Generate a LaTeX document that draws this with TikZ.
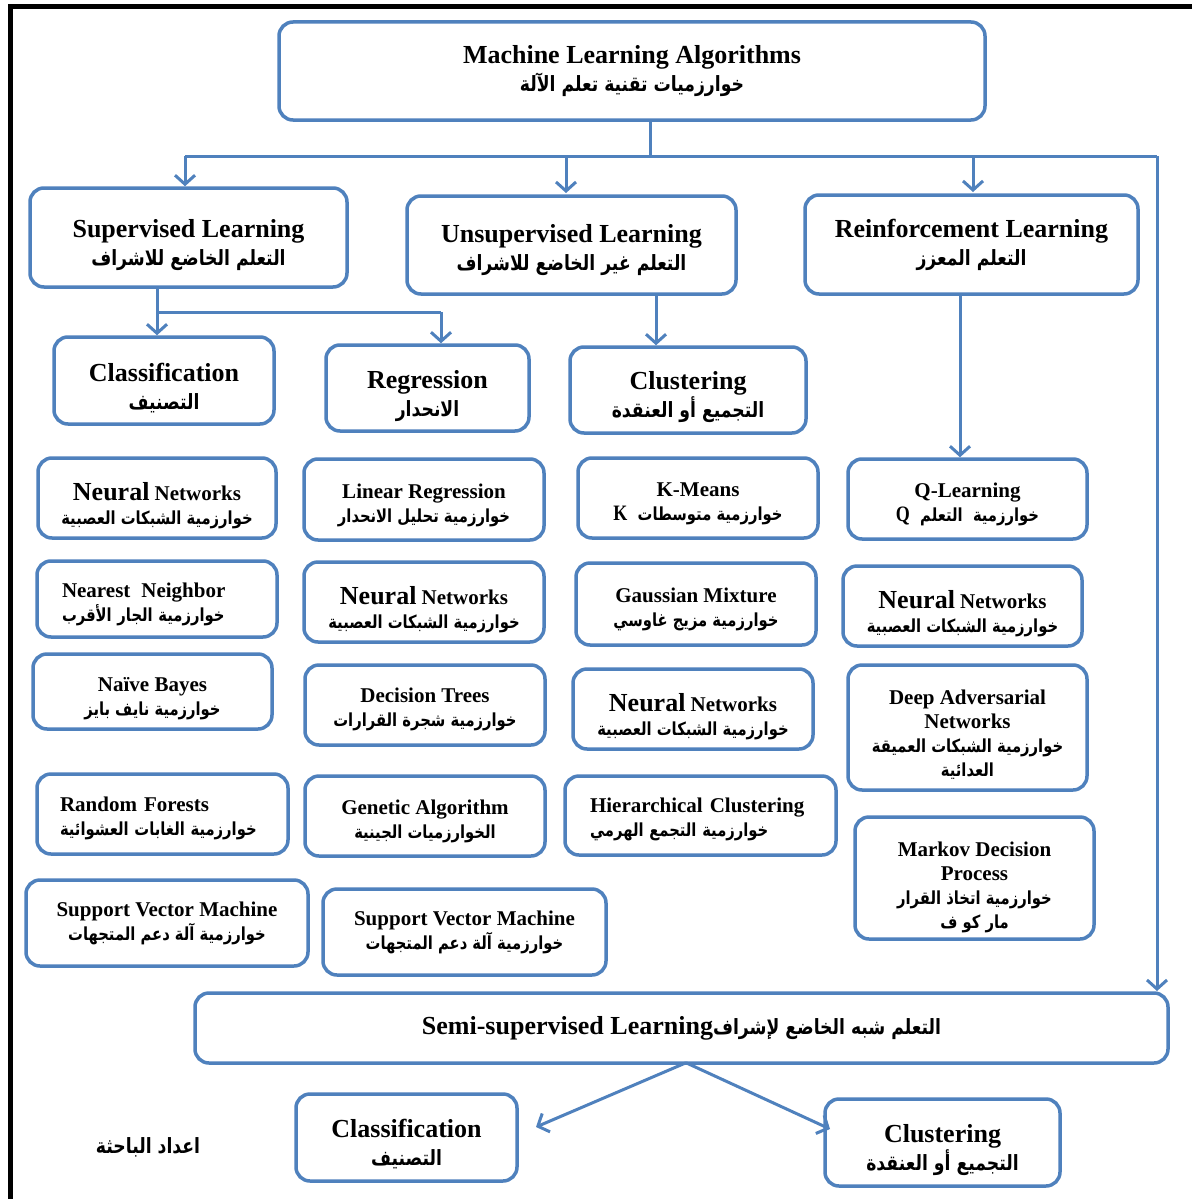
\documentclass[tikz,border=0pt]{standalone}
\usepackage{fontspec}
\usepackage{graphicx}
\setmainfont{Liberation Serif}
\newfontfamily\arabicfont[Script=Arabic]{DejaVu Sans}
\newfontfamily\latinfont{Liberation Serif}
\TeXXeTstate=1
\usetikzlibrary{arrows.meta}
\definecolor{bblue}{RGB}{79,129,189}
\newcommand\AR[2][18]{\scalebox{0.82}[1]{\arabicfont\bfseries\fontsize{#1}{24}\selectfont\beginR #2\endR}}
\newcommand\LT[1]{\beginL{\latinfont\bfseries\fontsize{22}{24}\selectfont #1}\endL}
\newcommand\BIGW[1]{{\fontsize{26}{24}\selectfont #1}}
\newcommand\TS[1]{\rule{0pt}{#1pt}}
\begin{document}
\begin{tikzpicture}[x=1pt,y=-1pt,
  box/.style={draw=bblue, line width=3.5pt, rounded corners=14pt, fill=white, inner sep=0pt, align=center, font=\fontsize{21}{24}\selectfont\bfseries},
  bigbox/.style={box, font=\fontsize{26}{28}\selectfont\bfseries},
  conn/.style={draw=bblue, line width=3pt},
  arr/.style={conn, -{Straight Barb[length=9pt,width=20pt]}},
  frame/.style={draw=black, line width=5pt}
]
\useasboundingbox (0,0) rectangle (1192,1199);
\fill[white] (0,0) rectangle (1192,1199);
\coordinate (fTL) at (10,7);
\coordinate (fTR) at (1192,7);
\coordinate (fBL) at (10,1199);
\draw[frame] (fTR) -- (fTL) -- (fBL);

% top
\node[bigbox, minimum width=706pt, minimum height=98pt] (ml) at (632,71) {Machine Learning Algorithms\\\AR[21]{خوارزميات تقنية تعلم الآلة}};

% second level
\node[bigbox, minimum width=317pt, minimum height=99pt] (sup) at (188.5,237.5) {\TS{33}Supervised Learning\\\AR[21]{التعلم الخاضع للاشراف}};
\node[bigbox, minimum width=329pt, minimum height=98pt] (unsup) at (571.5,245) {\TS{29}Unsupervised Learning\\\AR[21]{التعلم غير الخاضع للاشراف}};
\node[bigbox, minimum width=333pt, minimum height=99pt] (reinf) at (971.5,244.5) {Reinforcement Learning\\\AR[21]{التعلم المعزز}};

% third level
\node[bigbox, minimum width=220pt, minimum height=87pt] (class) at (164,380.5) {\TS{33}Classification\\\AR[21]{التصنيف}};
\node[bigbox, minimum width=203pt, minimum height=86pt] (regr) at (427.5,388) {\TS{35}Regression\\\AR[21]{الانحدار}};
\node[bigbox, minimum width=236pt, minimum height=86pt] (clust) at (688,390) {\TS{33}Clustering\\\AR[21]{التجميع أو العنقدة}};

% row 1
\node[box, minimum width=238pt, minimum height=80pt] (nn1) at (157,498) {\TS{33}\BIGW{Neural} Networks\\\AR{خوارزمية الشبكات العصبية}};
\node[box, minimum width=240pt, minimum height=81pt] (linreg) at (424,499.5) {\TS{27}Linear Regression\\\AR{خوارزمية تحليل الانحدار}};
\node[box, minimum width=240pt, minimum height=80pt] (kmeans) at (698,498) {\TS{25}K-Means\\\AR{خوارزمية متوسطات\ \ \LT{K}}};
\node[box, minimum width=239pt, minimum height=80pt] (qlearn) at (967.5,499) {\TS{25}Q-Learning\\\AR{خوارزمية\ \ التعلم\ \ \LT{Q}}};

% row 2
\node[box, minimum width=240pt, minimum height=76pt, text width=190pt, align=left] (nearest) at (157,599) {\TS{25}Nearest\hspace{4pt} Neighbor\\\AR{خوارزمية الجار الأقرب}};
\node[box, minimum width=240pt, minimum height=80pt] (nn2) at (424,602) {\TS{33}\BIGW{Neural} Networks\\\AR{خوارزمية الشبكات العصبية}};
\node[box, minimum width=240pt, minimum height=82pt] (gauss) at (696,604) {\TS{25}Gaussian Mixture\\\AR{خوارزمية مزيج غاوسي}};
\node[box, minimum width=239pt, minimum height=80pt] (nn3) at (962.5,606) {\TS{33}\BIGW{Neural} Networks\\\AR{خوارزمية الشبكات العصبية}};

% row 3
\node[box, minimum width=239pt, minimum height=75pt] (naive) at (152.5,691.5) {\TS{29}Naïve Bayes\\\AR{خوارزمية نايف بايز}};
\node[box, minimum width=240pt, minimum height=80pt] (dtree) at (425,705) {\TS{23}Decision Trees\\\AR{خوارزمية شجرة القرارات}};
\node[box, minimum width=240pt, minimum height=80pt] (nn4) at (693,709) {\TS{33}\BIGW{Neural} Networks\\\AR{خوارزمية الشبكات العصبية}};
\node[box, minimum width=239pt, minimum height=125pt] (dan) at (967.5,727.5) {\TS{29}Deep Adversarial\\Networks\\\AR{خوارزمية الشبكات العميقة}\\\AR{العدائية}};

% row 4
\node[box, minimum width=251pt, minimum height=80pt, text width=205pt, align=left] (rf) at (162.5,814) {\TS{23}Random Forests\\\AR{خوارزمية الغابات العشوائية}};
\node[box, minimum width=240pt, minimum height=80pt] (ga) at (425,816) {\TS{25}Genetic Algorithm\\\AR{الخوارزميات الجينية}};
\node[box, minimum width=271pt, minimum height=79pt, text width=221pt, align=left] (hc) at (700.5,815.5) {\TS{23}Hierarchical Clustering\\\AR{خوارزمية التجمع الهرمي}};
\node[box, minimum width=239pt, minimum height=122pt] (mdp) at (974.5,878) {\TS{33}Markov Decision\\Process\\\AR{خوارزمية اتخاذ القرار}\\\AR{مار كو ف}};

% row 5
\node[box, minimum width=282pt, minimum height=86pt] (svm1) at (167,923) {Support Vector Machine\\\AR{خوارزمية آلة دعم المتجهات}};
\node[box, minimum width=283pt, minimum height=86pt] (svm2) at (464.5,932) {Support Vector Machine\\\AR{خوارزمية آلة دعم المتجهات}};

% semi-supervised
\node[bigbox, minimum width=973pt, minimum height=70pt] (semi) at (681.5,1028) {Semi-supervised Learning\AR[21]{التعلم شبه الخاضع لإشراف}};
\node[bigbox, minimum width=221pt, minimum height=87pt] (class2) at (406.5,1137.5) {\TS{31}Classification\\\AR[21]{التصنيف}};
\node[bigbox, minimum width=235pt, minimum height=87pt] (clust2) at (942.5,1142.5) {\TS{33}Clustering\\\AR[21]{التجميع أو العنقدة}};
\node[inner sep=0pt] (credit) at (148,1147) {\AR[21]{اعداد الباحثة}};

% connectors
\coordinate (hub) at (650,156);
\coordinate (hubL) at (185,156);
\coordinate (hubR) at (1157,156);
\draw[conn] ([xshift=18pt]ml.south) -- (hub);
\draw[conn] (hubL) -- (hubR);
\draw[arr] (hubL) -- (hubL |- sup.north);
\draw[arr] (566,156) -- (566,193);
\draw[arr] (973,156) -- (973,192);
\draw[arr] (hubR) -- (1157,991);

\coordinate (sJ) at (157,312);
\coordinate (sJR) at (441,312);
\draw[conn] ([xshift=-31.5pt]sup.south) -- (sJ) -- (sJR);
\draw[arr] (sJ) -- (sJ |- class.north);
\draw[arr] (sJR) -- (sJR |- regr.north);

\draw[arr] ([xshift=84.5pt]unsup.south) -- ([xshift=-32pt]clust.north);
\draw[arr] ([xshift=-11.5pt]reinf.south) -- ([xshift=-7.5pt]qlearn.north);

\coordinate (c2tip) at (536,1127);
\coordinate (k2tip) at (830,1129);
\draw[arr] ([xshift=4.5pt,yshift=2pt]semi.south) -- (c2tip);
\draw[arr] ([xshift=4.5pt,yshift=2pt]semi.south) -- (k2tip);
\end{tikzpicture}
\end{document}
